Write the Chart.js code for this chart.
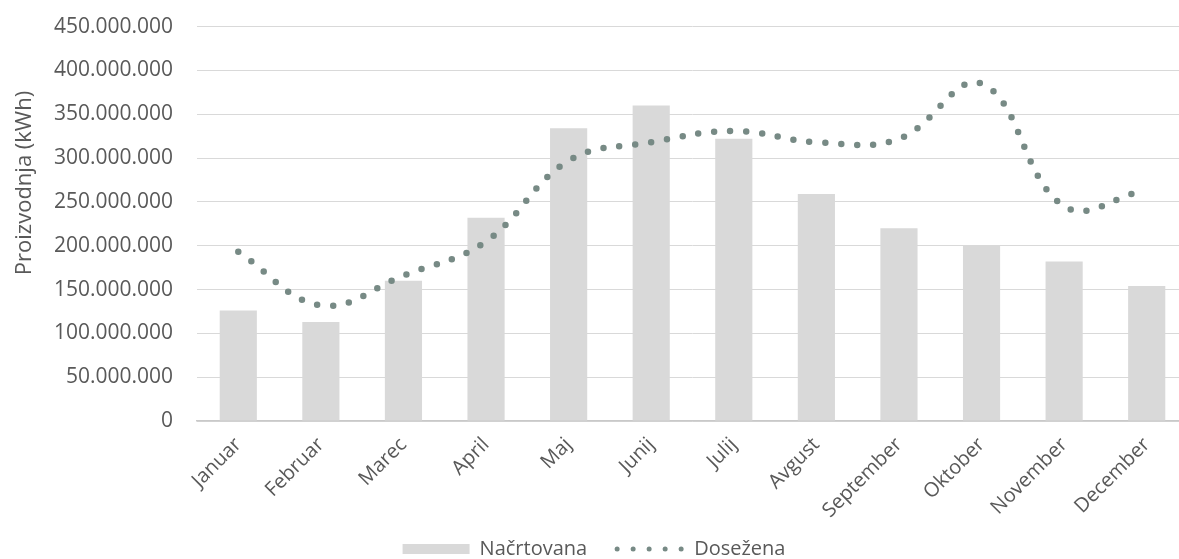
<!DOCTYPE html>
<html>
<head>
<meta charset="utf-8">
<title>Proizvodnja</title>
<script src="https://cdn.jsdelivr.net/npm/chart.js@4/dist/chart.umd.min.js"></script>
<style>
  html, body { margin: 0; padding: 0; background: #fff; overflow: hidden; }
  #wrap { position: relative; width: 1190px; height: 569px; }
</style>
</head>
<body>
<div id="wrap"><canvas id="prod-chart"></canvas></div>
<script>
// mesečna proizvodnja, kWh
const months = ['Januar', 'Februar', 'Marec', 'April', 'Maj', 'Junij', 'Julij', 'Avgust', 'September', 'Oktober', 'November', 'December'];
const planned = [126e6, 113e6, 160e6, 232e6, 334e6, 360e6, 322e6, 259e6, 220e6, 200e6, 182e6, 154e6];
const achieved = [193e6, 132e6, 166e6, 205e6, 297e6, 318e6, 331e6, 318e6, 322e6, 385e6, 245e6, 264e6];
const yTicks = { min: 0, max: 450e6, step: 50e6 };

const TEXT = '#595959';
const BAR = '#d9d9d9';
const DOTS = '#778a85';
const FONT = 'Open Sans';

function fmt(v) {
    return String(v).replace(/\B(?=(\d{3})+(?!\d))/g, '.');
}

// naslov osi y, nekoliko nad sredino
const axisTitle = {
    id: 'axisTitle',
    afterDraw(chart) {
        const ctx = chart.ctx;
        ctx.save();
        ctx.translate(25, 183);
        ctx.rotate(-Math.PI / 2);
        ctx.font = `22px "${FONT}"`;
        ctx.fillStyle = TEXT;
        ctx.textAlign = 'center';
        ctx.textBaseline = 'middle';
        ctx.fillText('Proizvodnja (kWh)', 0, 0);
        ctx.restore();
    }
};

const ctx = document.getElementById('prod-chart').getContext('2d');
new Chart(ctx, {
    data: {
        labels: months,
        datasets: [
            {
                type: 'line',
                label: 'Dosežena',
                data: achieved,
                order: 0,
                borderColor: DOTS,
                borderWidth: 6.5,
                borderDash: [0, 16],
                borderCapStyle: 'round',
                tension: 0.4,
                pointRadius: 0,
                fill: false
            },
            {
                type: 'bar',
                label: 'Načrtovana',
                data: planned,
                order: 1,
                backgroundColor: BAR,
                barPercentage: 0.45,
                categoryPercentage: 1
            }
        ]
    },
    options: {
        responsive: true,
        maintainAspectRatio: false,
        animation: false,
        layout: { padding: { top: 0, left: 0, right: 2, bottom: 0 } },
        plugins: {
            tooltip: { enabled: false },
            legend: {
                position: 'bottom',
                labels: {
                    color: TEXT,
                    font: { family: FONT, size: 20 },
                    usePointStyle: true,
                    pointStyleWidth: 67,
                    boxHeight: 10,
                    padding: 10,
                    // em-presledek za razmik med elementoma legende
                    generateLabels: () => [
                        { text: 'Načrtovana\u2003', fillStyle: BAR, strokeStyle: BAR, lineWidth: 0, pointStyle: 'rect', fontColor: TEXT, datasetIndex: 1 },
                        { text: 'Dosežena', fillStyle: 'rgba(0,0,0,0)', strokeStyle: DOTS, lineWidth: 5, lineDash: [0, 16], lineCap: 'round', pointStyle: 'line', fontColor: TEXT, datasetIndex: 0 }
                    ]
                }
            }
        },
        scales: {
            x: {
                grid: { display: false, drawTicks: false },
                border: { display: true, color: '#c9c9c9', width: 1.5 },
                ticks: {
                    color: TEXT,
                    font: { family: FONT, size: 20 },
                    minRotation: 45,
                    maxRotation: 45,
                    padding: 12
                },
                afterFit(scale) { scale.height = 108; }
            },
            y: {
                min: yTicks.min,
                max: yTicks.max,
                grid: { color: BAR, drawTicks: true, tickLength: 10, tickColor: 'rgba(0,0,0,0)' },
                border: { display: false },
                ticks: {
                    stepSize: yTicks.step,
                    color: TEXT,
                    font: { family: FONT, size: 21 },
                    padding: 14,
                    callback: v => fmt(v)
                },
                afterFit(scale) { scale.width = 197; }
            }
        }
    },
    plugins: [axisTitle]
});
</script>
</body>
</html>
